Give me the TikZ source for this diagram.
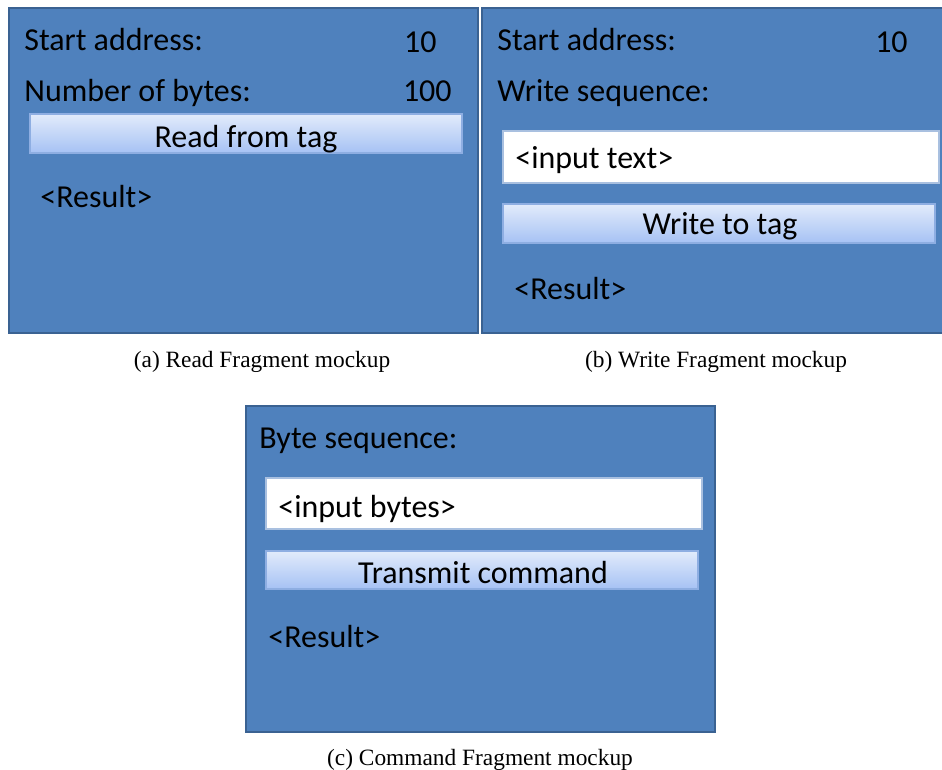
\documentclass[tikz,border=0pt]{standalone}
\usepackage{fontspec}
\setmainfont{Carlito}
\newfontfamily\capfont{Liberation Serif}

\definecolor{panelblue}{HTML}{4F81BD}
\definecolor{paneledge}{HTML}{3A6292}
\definecolor{btntop}{HTML}{E2EBFB}
\definecolor{btnbot}{HTML}{A6C2F4}
\definecolor{btnedge}{HTML}{8EAEE2}
\definecolor{boxedge}{HTML}{A9C0E0}

\tikzset{
  panel/.style={fill=panelblue, draw=paneledge, line width=1pt},
  button/.style={top color=btntop, bottom color=btnbot, draw=btnedge, line width=0.6pt},
  inbox/.style={fill=white, draw=boxedge, line width=0.6pt},
  lbl/.style={anchor=base west, inner sep=0pt, font=\fontsize{18.2}{20}\selectfont},
  num/.style={anchor=base east, inner sep=0pt, font=\fontsize{18.2}{20}\selectfont},
  btntext/.style={anchor=base, inner sep=0pt, font=\fontsize{18.2}{20}\selectfont},
  caption/.style={anchor=base, inner sep=0pt, font=\capfont\fontsize{13.3}{15}\selectfont}
}

\begin{document}
\begin{tikzpicture}[x=0.02cm, y=-0.02cm]
\clip (0,0) rectangle (942,769);

% read fragment
\filldraw[panel] (9,8) rectangle (478,333);
\node[lbl] (rstart) at (24,50) {Start address:};
\node[num] (rstartval) at (437,52) {10};
\node[lbl] (rnum) at (24,101) {Number of bytes:};
\node[num] (rnumval) at (452,101) {100};
\draw[button] (30,114) rectangle (462,153);
\node[btntext] (rbtn) at (246,147) {Read from tag};
\node[lbl] (rres) at (40,207) {<Result>};
\node[caption] (capa) at (262,367) {(a) Read Fragment mockup};

% write fragment
\filldraw[panel] (482,8) rectangle (946,333);
\node[lbl] (wstart) at (497,50) {Start address:};
\node[num] (wstartval) at (908,52) {10};
\node[lbl] (wseq) at (497,101) {Write sequence:};
\draw[inbox] (503,131) rectangle (939,183);
\node[lbl] (winput) at (515,168) {<input text>};
\draw[button] (503,204) rectangle (935,243);
\node[btntext] (wbtn) at (720,234) {Write to tag};
\node[lbl] (wres) at (514,299) {<Result>};
\node[caption] (capb) at (716,367) {(b) Write Fragment mockup};

% command fragment
\filldraw[panel] (246,406) rectangle (715,732);
\node[lbl] (cseq) at (259,448) {Byte sequence:};
\draw[inbox] (266,478) rectangle (702,529);
\node[lbl] (cinput) at (278,517) {<input bytes>};
\draw[button] (266,551) rectangle (698,589);
\node[btntext] (cbtn) at (483,583) {Transmit command};
\node[lbl] (cres) at (268,647) {<Result>};
\node[caption] (capc) at (480,765) {(c) Command Fragment mockup};
\end{tikzpicture}
\end{document}
